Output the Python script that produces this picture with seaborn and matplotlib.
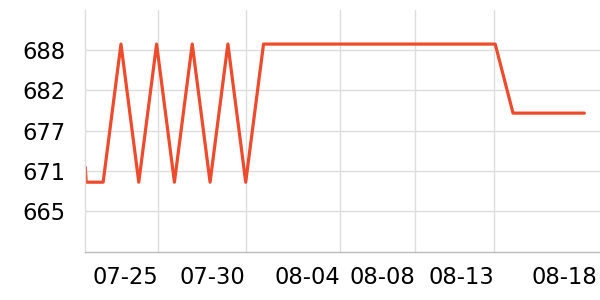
import matplotlib
matplotlib.use("Agg")
import matplotlib.pyplot as plt
import seaborn as sns
import pandas as pd
from matplotlib.ticker import FormatStrFormatter

# data: position along the category axis and value
x_pos = [0, 0.05, 1, 2, 3, 4, 5, 6, 7, 8, 9, 10, 11, 12, 13, 14, 15, 16, 17,
         18, 19, 20, 21, 22, 23, 24, 25, 26, 27, 28]
values = [671.4, 669.3, 669.3, 688.7, 669.3, 688.7, 669.3, 688.7, 669.3, 688.7,
          669.3, 688.7, 688.7, 688.7, 688.7, 688.7, 688.7, 688.7, 688.7, 688.7,
          688.7, 688.7, 688.7, 688.7, 688.7, 679.0, 679.0, 679.0, 679.0, 679.0]
x_tick_pos = [4.10, 9.00, 14.31, 18.52, 22.95, 28.71]
x_tick_labels = ["07-25", "07-30", "08-04", "08-08", "08-13", "08-18"]
y_tick_pos = [665.25, 670.9, 676.55, 682.2, 687.85]

df = pd.DataFrame({"x": x_pos, "v": values})

sns.set_theme(style="white")
plt.rcParams["font.family"] = ["DejaVu Sans"]

fig = plt.figure(figsize=(6, 3), dpi=100)
ax = fig.add_axes([0.1422, 0.159, 1.0 - 0.1422, 0.967 - 0.159])

sns.lineplot(data=df, x="x", y="v", ax=ax, color="#ee4a2c", linewidth=2.3,
             estimator=None, sort=False)

ax.set_xlim(0, 28.88)
ax.set_ylim(659.45, 693.5)
ax.set_yticks(y_tick_pos)
ax.yaxis.set_major_formatter(FormatStrFormatter("%.0f"))
ax.set_xticks(x_tick_pos)
ax.set_xticklabels(x_tick_labels, ha="right")

ax.grid(True, color="#dddddd", linewidth=1)
ax.set_axisbelow(True)
ax.get_xgridlines()[-1].set_visible(False)
ax.xaxis.get_major_ticks()[-1].tick1line.set_visible(False)
for s in ["top", "right"]:
    ax.spines[s].set_visible(False)
ax.spines["left"].set_color("#dddddd")
ax.spines["left"].set_linewidth(1)
ax.spines["bottom"].set_color("#bbbbbb")
ax.spines["bottom"].set_linewidth(1)

ax.tick_params(axis="y", length=0, pad=14, labelsize=16.3, labelcolor="black")
ax.tick_params(axis="x", length=3, color="#cccccc", pad=7, labelsize=16.3,
               labelcolor="black")
ax.set_xlabel("")
ax.set_ylabel("")

fig.savefig("out.png", dpi=100)
